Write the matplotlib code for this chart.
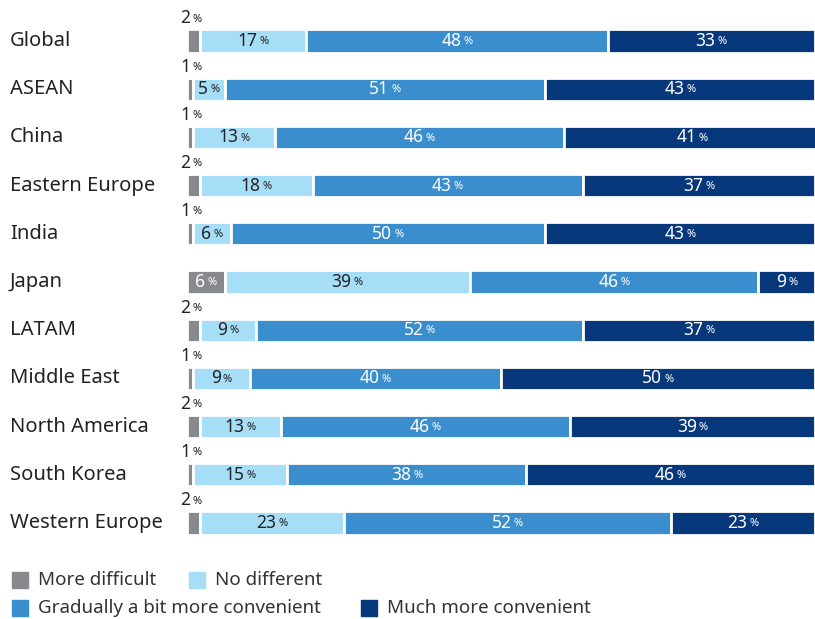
import matplotlib.pyplot as plt
from matplotlib.patches import Rectangle

# regions, top to bottom
regions = ['Global', 'ASEAN', 'China', 'Eastern Europe', 'India', 'Japan',
           'LATAM', 'Middle East', 'North America', 'South Korea', 'Western Europe']

more_difficult = [2, 1, 1, 2, 1, 6, 2, 1, 2, 1, 2]
no_different = [17, 5, 13, 18, 6, 39, 9, 9, 13, 15, 23]
bit_more_convenient = [48, 51, 46, 43, 50, 46, 52, 40, 46, 38, 52]
much_more_convenient = [33, 43, 41, 37, 43, 9, 37, 50, 39, 46, 23]

series = [more_difficult, no_different, bit_more_convenient, much_more_convenient]
series_names = ['More difficult', 'No different',
                'Gradually a bit more convenient', 'Much more convenient']
colors = ['#88898d', '#a6def7', '#3a8ecd', '#08387c']
text_colors = ['white', '#222222', 'white', 'white']

plt.rcParams['font.family'] = ['Noto Sans', 'DejaVu Sans']

fig = plt.figure(figsize=(8.15, 6.19), dpi=100)
ax = fig.add_axes([0.2294, 0.1162, 0.7706, 0.8565])


def pct_label(x, y, val, color):
    # number plus a smaller percent sign, centered as a pair
    nd = len(str(val))
    shift = (nd * 10 - 11.5) / 2 * 0.72
    ax.annotate(str(val), (x, y), xytext=(shift, 0), textcoords='offset points',
                ha='right', va='center', fontsize=12.5, color=color)
    ax.annotate('%', (x, y), xytext=(shift + 1.5, -0.5), textcoords='offset points',
                ha='left', va='center', fontsize=8, color=color)


for i, region in enumerate(regions):
    left = 0
    for k, vals in enumerate(series):
        v = vals[i]
        ax.barh(i, v, left=left, height=0.48, color=colors[k],
                edgecolor='white', linewidth=2.0)
        if v <= 2:
            pct_label(0.6, i - 0.47, v, '#222222')
        else:
            pct_label(left + v / 2, i, v, text_colors[k])
        left += v

ax.set_xlim(0, 100)
ax.set_ylim(len(regions) - 0.5, -0.5)
ax.axis('off')

# region names at the left edge of the figure
for i, region in enumerate(regions):
    y_fig = 1 - (41 + 48.2 * i) / 619
    fig.text(10 / 815, y_fig, region, ha='left', va='center',
             fontsize=14.5, color='#222222')

# legend laid out in two rows like flowing text
legend_rows = [[(0, 12), (1, 189)], [(2, 12), (3, 361)]]
row_y = [580, 608]
for r, row in enumerate(legend_rows):
    for k, x_px in row:
        y = 1 - row_y[r] / 619
        fig.patches.append(Rectangle((x_px / 815, y - 8 / 619), 16 / 815, 16 / 619,
                                     transform=fig.transFigure,
                                     color=colors[k]))
        fig.text((x_px + 26) / 815, y, series_names[k], ha='left', va='center',
                 fontsize=13.5, color='#333333')

fig.savefig('out.png', dpi=100)
